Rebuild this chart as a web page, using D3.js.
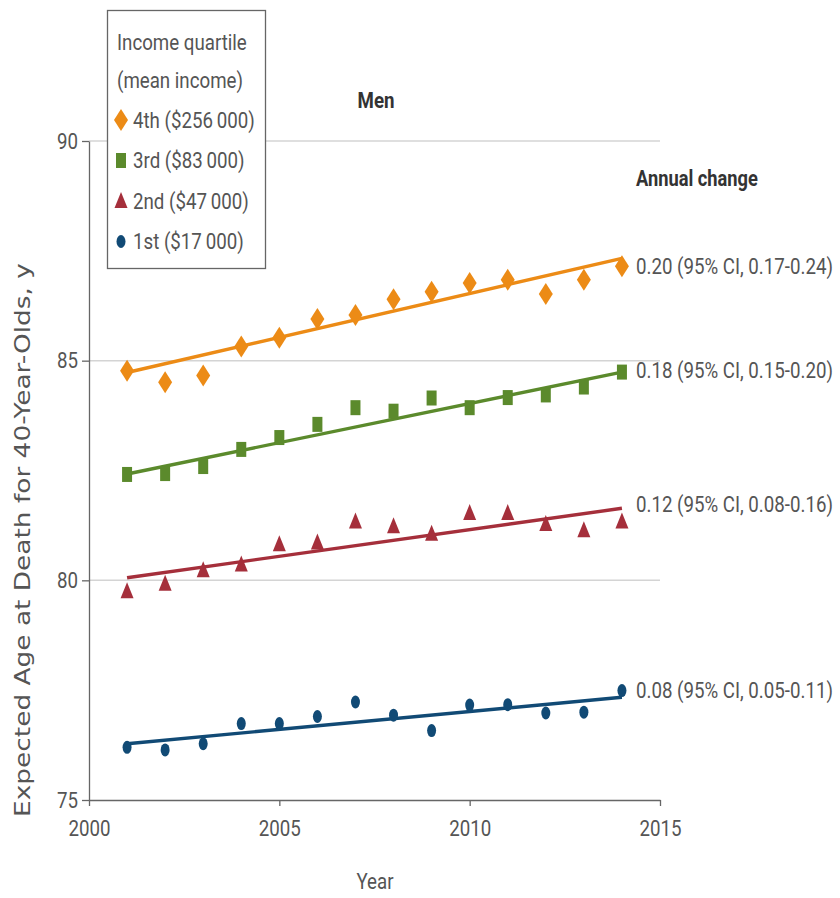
<!DOCTYPE html>
<html>
<head>
<meta charset="utf-8">
<script src="https://cdn.jsdelivr.net/npm/d3@7"></script>
<style>
  html, body { margin: 0; padding: 0; background: #fff; }
  svg { display: block; }
  text { font-family: Roboto, "Liberation Sans", sans-serif; }
</style>
</head>
<body>
<svg id="chart" width="840" height="898"></svg>
<script>
// data
const years = [2001, 2002, 2003, 2004, 2005, 2006, 2007, 2008, 2009, 2010, 2011, 2012, 2013, 2014];
const q4 = [84.77, 84.51, 84.66, 85.32, 85.52, 85.95, 86.04, 86.40, 86.57, 86.77, 86.84, 86.52, 86.84, 87.15];
const q3 = [82.41, 82.43, 82.59, 82.98, 83.25, 83.55, 83.93, 83.85, 84.15, 83.93, 84.16, 84.22, 84.40, 84.74];
const q2 = [79.75, 79.92, 80.23, 80.36, 80.82, 80.86, 81.34, 81.23, 81.06, 81.53, 81.53, 81.28, 81.14, 81.34];
const q1 = [76.20, 76.14, 76.28, 76.74, 76.74, 76.90, 77.23, 76.93, 76.58, 77.16, 77.17, 76.98, 77.00, 77.49];

const quartileLabels = ["4th ($256\u2009000)", "3rd ($83\u2009000)", "2nd ($47\u2009000)", "1st ($17\u2009000)"];
const changeLabels = ["0.20 (95% CI, 0.17-0.24)", "0.18 (95% CI, 0.15-0.20)", "0.12 (95% CI, 0.08-0.16)", "0.08 (95% CI, 0.05-0.11)"];
// fitted trend, value at 2001 and at 2014
const fitStart = [84.73, 82.42, 80.06, 76.28];
const fitEnd = [87.33, 84.74, 81.64, 77.34];
const changeLabelAt = [87.15, 84.77, 81.72, 77.50];

const xTicks = [2000, 2005, 2010, 2015];
const yTicks = [75, 80, 85, 90];
const gridValues = [80, 85, 90];

const colors = ["#ec8b16", "#5b8a2c", "#a52f3b", "#114a75"];
const shapes = ["diamond", "square", "triangle", "circle"];
const series = [q4, q3, q2, q1];

const svg = d3.select("#chart");
const x = d3.scaleLinear().domain([2000, 2015]).range([89, 660]);
const y = d3.scaleLinear().domain([75, 90]).range([800, 141]);

// the original type is a condensed face; squeeze Roboto sideways
const SQUEEZE = 0.85;

function label(parent, px, py, str, { size = 22, weight = "normal", fill = "#555", anchor = "start" } = {}) {
  return parent.append("g")
    .attr("transform", `translate(${px},${py})`)
    .append("text")
    .attr("transform", `scale(${SQUEEZE},1)`)
    .attr("dy", "0.35em")
    .attr("text-anchor", anchor)
    .attr("font-size", size)
    .attr("font-weight", weight)
    .attr("fill", fill)
    .text(str);
}

function marker(sel, shape, color) {
  if (shape === "circle") {
    sel.append("ellipse").attr("rx", 4.5).attr("ry", 6.5).attr("fill", color);
  } else if (shape === "diamond") {
    sel.append("path").attr("d", "M0,-11L7,0L0,11L-7,0Z").attr("fill", color);
  } else if (shape === "square") {
    sel.append("rect").attr("x", -5).attr("y", -7.5).attr("width", 10).attr("height", 15).attr("fill", color);
  } else {
    sel.append("path").attr("d", "M0,-9L6.5,7L-6.5,7Z").attr("fill", color);
  }
}

// gridlines
svg.append("g")
  .selectAll("line")
  .data(gridValues)
  .enter()
  .append("line")
  .attr("x1", x(2000))
  .attr("x2", x(2015))
  .attr("y1", (d) => y(d))
  .attr("y2", (d) => y(d))
  .attr("stroke", "#d4d4d4")
  .attr("stroke-width", 1.5);

// axes
svg.append("g")
  .attr("transform", `translate(${x(2000)},0)`)
  .call(d3.axisLeft(y).tickValues(yTicks).tickSize(7).tickSizeOuter(0).tickPadding(6));
svg.append("g")
  .attr("transform", `translate(0,${y(75)})`)
  .call(d3.axisBottom(x).tickValues(xTicks).tickFormat(d3.format("d")).tickSize(6).tickSizeOuter(0).tickPadding(14));

svg.selectAll(".domain,.tick line").attr("stroke", "#666").attr("stroke-width", 1.3);
svg.selectAll(".tick text")
  .attr("transform", `scale(${SQUEEZE},1)`)
  .attr("font-size", 22)
  .attr("fill", "#555");

// trend lines
series.forEach((vals, i) => {
  svg.append("line")
    .attr("x1", x(years[0]))
    .attr("x2", x(years[years.length - 1]))
    .attr("y1", y(fitStart[i]))
    .attr("y2", y(fitEnd[i]))
    .attr("stroke", colors[i])
    .attr("stroke-width", 3.4);
});

// points
series.forEach((vals, i) => {
  svg.append("g")
    .selectAll("g")
    .data(vals)
    .enter()
    .append("g")
    .attr("transform", (d, j) => `translate(${x(years[j])},${y(d)})`)
    .each(function () { marker(d3.select(this), shapes[i], colors[i]); });
});

// annual change labels
label(svg, 636, 178, "Annual change", { size: 21.5, weight: "bold", fill: "#333" });
changeLabels.forEach((str, i) => {
  label(svg, 636, y(changeLabelAt[i]), str, { size: 22 });
});

// panel title
label(svg, 376, 100, "Men", { size: 22, weight: "bold", fill: "#333", anchor: "middle" });

// legend
const legend = svg.append("g");
legend.append("rect")
  .attr("x", 107.5)
  .attr("y", 10.5)
  .attr("width", 158)
  .attr("height", 258)
  .attr("fill", "#fff")
  .attr("stroke", "#666")
  .attr("stroke-width", 1.3);
["Income quartile", "(mean income)"].forEach((str, i) => {
  label(legend, 117, 42 + i * 38, str, { size: 22 });
});
quartileLabels.forEach((str, i) => {
  const row = legend.append("g").attr("transform", `translate(121,${120 + i * 40.5})`);
  marker(row, shapes[i], colors[i]);
  label(row, 12, 0, str, { size: 22 });
});

// axis titles
label(svg, 375, 881, "Year", { size: 22, anchor: "middle" });

svg.append("text")
  .attr("transform", "translate(22,540) rotate(-90) scale(1.2,1)")
  .attr("dy", "0.35em")
  .attr("text-anchor", "middle")
  .style("font-family", "'DejaVu Sans', Verdana, sans-serif")
  .attr("font-size", 22)
  .attr("fill", "#555")
  .text("Expected Age at Death for 40-Year-Olds, y");
</script>
</body>
</html>
